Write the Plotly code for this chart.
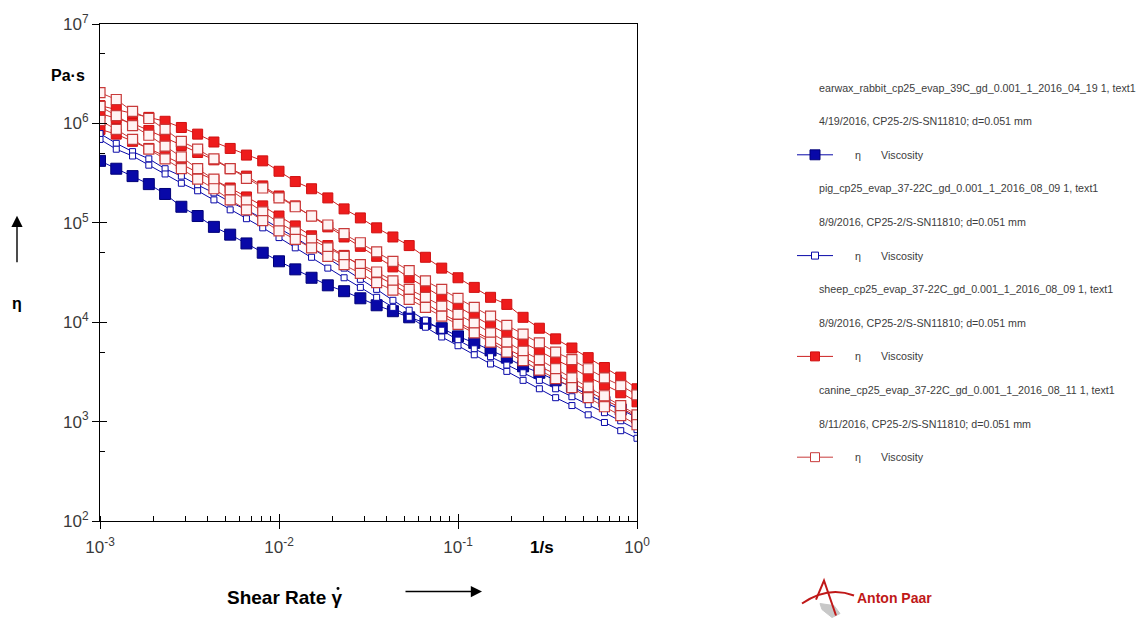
import numpy as np
import plotly.graph_objects as go

# ---------------- data ----------------
shear_rate = np.logspace(-3, 0, 34)  # 1/s, measurement points of the ramp

rabbit = [4.2e5, 3.5e5, 2.95e5, 2.45e5, 1.95e5, 1.45e5, 1.17e5, 9.1e4, 7.6e4, 6.2e4,
          5.0e4, 4.1e4, 3.4e4, 2.8e4, 2.35e4, 2.05e4, 1.74e4, 1.48e4, 1.29e4, 1.12e4,
          9.8e3, 8.7e3, 7.2e3, 6.2e3, 5.2e3, 4.4e3, 3.6e3, 3.1e3, 2.6e3, 2.25e3,
          1.86e3, 1.58e3, 1.32e3, 1.1e3]

pig_runs = [
    [7.9e5, 6.3e5, 5.2e5, 4.4e5, 3.5e5, 2.95e5, 2.4e5, 2.0e5, 1.62e5, 1.35e5,
     1.1e5, 8.9e4, 7.1e4, 5.6e4, 4.4e4, 3.5e4, 2.7e4, 2.14e4, 1.66e4, 1.32e4,
     1.05e4, 8.3e3, 6.6e3, 5.4e3, 4.5e3, 3.7e3, 3.1e3, 2.6e3, 2.14e3, 1.78e3,
     1.48e3, 1.23e3, 1.02e3, 8.3e2],
    [6.9e5, 5.5e5, 4.7e5, 3.8e5, 3.1e5, 2.5e5, 2.1e5, 1.7e5, 1.35e5, 1.1e5,
     8.9e4, 7.1e4, 5.6e4, 4.5e4, 3.5e4, 2.8e4, 2.24e4, 1.78e4, 1.41e4, 1.12e4,
     8.9e3, 7.1e3, 5.8e3, 4.7e3, 3.8e3, 3.2e3, 2.6e3, 2.14e3, 1.74e3, 1.45e3,
     1.17e3, 9.8e2, 8.1e2, 6.8e2],
]

sheep_runs = [
    [1.51e6, 1.38e6, 1.26e6, 1.15e6, 1.05e6, 9.1e5, 7.8e5, 6.5e5, 5.6e5, 4.8e5,
     4.2e5, 3.3e5, 2.6e5, 2.2e5, 1.78e5, 1.38e5, 1.12e5, 8.9e4, 7.2e4, 5.9e4,
     4.5e4, 3.5e4, 2.8e4, 2.24e4, 1.78e4, 1.51e4, 1.12e4, 8.7e3, 6.8e3, 5.5e3,
     4.4e3, 3.5e3, 2.8e3, 2.14e3],
    [1.26e6, 1.12e6, 1.0e6, 8.5e5, 7.2e5, 6.0e5, 5.1e5, 4.3e5, 3.5e5, 2.95e5,
     2.35e5, 1.86e5, 1.48e5, 1.17e5, 9.1e4, 7.2e4, 5.8e4, 4.6e4, 3.6e4, 2.8e4,
     2.24e4, 1.78e4, 1.41e4, 1.15e4, 9.3e3, 7.6e3, 6.3e3, 5.1e3, 4.2e3, 3.5e3,
     2.8e3, 2.35e3, 1.95e3, 1.58e3],
    [8.7e5, 7.8e5, 6.6e5, 5.6e5, 4.7e5, 3.9e5, 3.2e5, 2.7e5, 2.24e5, 1.82e5,
     1.48e5, 1.17e5, 9.3e4, 7.4e4, 5.9e4, 4.7e4, 3.7e4, 2.95e4, 2.4e4, 1.9e4,
     1.55e4, 1.23e4, 1.0e4, 8.1e3, 6.6e3, 5.4e3, 4.5e3, 3.6e3, 3.0e3, 2.45e3,
     2.04e3, 1.66e3, 1.38e3, 1.12e3],
]

canine_runs = [
    [2.04e6, 1.74e6, 1.32e6, 1.12e6, 8.7e5, 6.6e5, 5.5e5, 4.4e5, 3.5e5, 2.8e5,
     2.24e5, 1.78e5, 1.45e5, 1.17e5, 9.5e4, 7.8e4, 6.3e4, 5.1e4, 4.1e4, 3.3e4,
     2.6e4, 2.14e4, 1.74e4, 1.41e4, 1.15e4, 9.3e3, 7.6e3, 6.2e3, 5.0e3, 4.2e3,
     3.4e3, 2.75e3, 2.3e3, 1.86e3],
    [1.48e6, 1.2e6, 9.5e5, 7.6e5, 5.9e5, 4.6e5, 3.5e5, 2.75e5, 2.14e5, 1.66e5,
     1.29e5, 1.0e5, 8.1e4, 6.8e4, 5.6e4, 4.6e4, 3.8e4, 3.2e4, 2.6e4, 2.14e4,
     1.78e4, 1.45e4, 1.2e4, 9.8e3, 7.8e3, 6.3e3, 5.1e3, 4.2e3, 3.4e3, 2.75e3,
     2.24e3, 1.82e3, 1.45e3, 1.17e3],
    [1.07e6, 8.7e5, 6.9e5, 5.5e5, 4.4e5, 3.5e5, 2.75e5, 2.2e5, 1.7e5, 1.35e5,
     1.05e5, 8.3e4, 6.8e4, 5.6e4, 4.6e4, 3.8e4, 3.1e4, 2.5e4, 2.1e4, 1.7e4,
     1.41e4, 1.15e4, 9.5e3, 7.8e3, 6.3e3, 5.0e3, 4.1e3, 3.3e3, 2.7e3, 2.2e3,
     1.74e3, 1.41e3, 1.15e3, 9.3e2],
]

legend_titles = [
    "earwax_rabbit_cp25_evap_39C_gd_0.001_1_2016_04_19 1, text1",
    "pig_cp25_evap_37-22C_gd_0.001_1_2016_08_09 1, text1",
    "sheep_cp25_evap_37-22C_gd_0.001_1_2016_08_09 1, text1",
    "canine_cp25_evap_37-22C_gd_0.001_1_2016_08_11 1, text1",
]
legend_dates = [
    "4/19/2016, CP25-2/S-SN11810; d=0.051 mm",
    "8/9/2016, CP25-2/S-SN11810; d=0.051 mm",
    "8/9/2016, CP25-2/S-SN11810; d=0.051 mm",
    "8/11/2016, CP25-2/S-SN11810; d=0.051 mm",
]

x_ticks = [1e-3, 1e-2, 1e-1, 1e0]
x_ticktext = ["10<sup>-3</sup>", "10<sup>-2</sup>", "10<sup>-1</sup>", "10<sup>0</sup>"]
y_ticks = [1e2, 1e3, 1e4, 1e5, 1e6, 1e7]
y_ticktext = ["10<sup>2</sup>", "10<sup>3</sup>", "10<sup>4</sup>", "10<sup>5</sup>",
              "10<sup>6</sup>", "10<sup>7</sup>"]

# ---------------- styles ----------------
BLUE = "#0808a8"
RED = "#ee1c1c"
RED_EDGE = "#c83a3a"
FONT = "Liberation Sans, Arial, sans-serif"

W, H = 1142, 620
L, R, T, B = 100, 637, 21, 521


def px(x):
    return (x - L) / (R - L)


def py(y):
    return (B - y) / (B - T)


fig = go.Figure()

styles = {
    "rabbit": dict(mode="lines+markers", line=dict(color=BLUE, width=1),
                   marker=dict(symbol="square", size=11, color=BLUE,
                               line=dict(color="#000078", width=1))),
    "pig": dict(mode="lines+markers", line=dict(color=BLUE, width=1),
                marker=dict(symbol="square", size=6, color="white",
                            line=dict(color=BLUE, width=1))),
    "sheep": dict(mode="lines+markers", line=dict(color="#cc2020", width=1),
                  marker=dict(symbol="square", size=10, color=RED,
                              line=dict(color="#d01010", width=1))),
    "canine": dict(mode="lines+markers", line=dict(color=RED_EDGE, width=1),
                   marker=dict(symbol="square", size=10, color="#fff4f4",
                               line=dict(color=RED_EDGE, width=1.2))),
}

fig.add_trace(go.Scatter(x=shear_rate, y=rabbit, name="rabbit", showlegend=False,
                         **styles["rabbit"]))
for run in sheep_runs:
    fig.add_trace(go.Scatter(x=shear_rate, y=run, name="sheep", showlegend=False,
                             **styles["sheep"]))
for run in pig_runs:
    fig.add_trace(go.Scatter(x=shear_rate, y=run, name="pig", showlegend=False,
                             **styles["pig"]))
for run in canine_runs:
    fig.add_trace(go.Scatter(x=shear_rate, y=run, name="canine", showlegend=False,
                             **styles["canine"]))

# empty overlay trace so the inside-tick overlay axes are drawn
fig.add_trace(go.Scatter(x=[], y=[], xaxis="x2", yaxis="y2", showlegend=False,
                         hoverinfo="skip"))

tickfont = dict(family=FONT, size=17, color="#3a3a3a")

fig.update_layout(
    width=W, height=H,
    margin=dict(l=L, r=W - R, t=T, b=H - B, pad=0),
    paper_bgcolor="white", plot_bgcolor="white",
    showlegend=False,
    xaxis=dict(type="log", range=[-3, 0], showgrid=False, zeroline=False,
               showline=True, linecolor="black", linewidth=1, mirror=True,
               ticks="outside", ticklen=7, tickcolor="black", tickwidth=1,
               tickmode="array", tickvals=x_ticks, ticktext=x_ticktext,
               tickfont=tickfont, ticklabelstandoff=4,
               minor=dict(ticks="inside", ticklen=5, tickcolor="black",
                          dtick="D1", showgrid=False)),
    yaxis=dict(type="log", range=[2, 7], showgrid=False, zeroline=False,
               showline=True, linecolor="black", linewidth=1, mirror=True,
               ticks="outside", ticklen=7, tickcolor="black", tickwidth=1,
               tickmode="array", tickvals=y_ticks, ticktext=y_ticktext,
               tickfont=tickfont,
               minor=dict(ticks="inside", ticklen=5, tickcolor="black",
                          tickvals=[5e2, 5e3, 5e4, 5e5, 5e6], showgrid=False)),
    xaxis2=dict(type="log", range=[-3, 0], overlaying="x", anchor="y2",
                showgrid=False, zeroline=False, showline=False,
                ticks="inside", ticklen=7, tickcolor="black",
                tickmode="array", tickvals=x_ticks, showticklabels=False),
    yaxis2=dict(type="log", range=[2, 7], overlaying="y", anchor="x2",
                showgrid=False, zeroline=False, showline=False,
                ticks="inside", ticklen=7, tickcolor="black",
                tickmode="array", tickvals=y_ticks, showticklabels=False),
)

ann = []
shapes = []

# axis titles
ann.append(dict(x=px(87), y=py(73), xref="paper", yref="paper", text="<b>Pa·s</b>",
                showarrow=False, xanchor="right", yanchor="middle",
                font=dict(family=FONT, size=16, color="black")))
ann.append(dict(x=px(17), y=py(302), xref="paper", yref="paper", text="<b>η</b>",
                showarrow=False, xanchor="center", yanchor="middle",
                font=dict(family=FONT, size=16, color="black")))
ann.append(dict(x=px(17), y=py(214), xref="paper", yref="paper", text="",
                showarrow=True, ax=0, ay=48, arrowhead=2, arrowsize=1.6,
                arrowwidth=1.4, arrowcolor="black", standoff=0))
ann.append(dict(x=px(542), y=py(548), xref="paper", yref="paper", text="<b>1/s</b>",
                showarrow=False, xanchor="center", yanchor="middle",
                font=dict(family=FONT, size=17, color="black")))
ann.append(dict(x=px(345), y=py(598), xref="paper", yref="paper",
                text="<b>Shear Rate γ</b>",
                showarrow=False, xanchor="right", yanchor="middle",
                font=dict(family=FONT, size=19, color="black")))
# dot over gamma (time derivative)
shapes.append(dict(type="circle", xref="paper", yref="paper",
                   x0=px(336.5), x1=px(339.5), y0=py(590.5), y1=py(587.5),
                   fillcolor="black", line=dict(color="black", width=0)))
ann.append(dict(x=px(482), y=py(592), xref="paper", yref="paper", text="",
                showarrow=True, ax=-78, ay=0, arrowhead=2, arrowsize=1.6,
                arrowwidth=1.4, arrowcolor="black", standoff=0))

# legend block
row0, step = 85, 33.8
legend_syms = [
    dict(fill=BLUE, edge="#000078", size=10, line=BLUE),
    dict(fill="white", edge=BLUE, size=7, line=BLUE),
    dict(fill=RED, edge="#d01010", size=9, line="#cc2020"),
    dict(fill="white", edge=RED_EDGE, size=9, line=RED_EDGE),
]
lfont = dict(family=FONT, size=10.7, color="#3c3c3c")
for g in range(4):
    y1 = row0 + step * (3 * g)
    y2 = row0 + step * (3 * g + 1)
    y3 = row0 + step * (3 * g + 2)
    ann.append(dict(x=px(817), y=py(y1), xref="paper", yref="paper",
                    text=legend_titles[g], showarrow=False, xanchor="left",
                    yanchor="middle", font=lfont))
    ann.append(dict(x=px(817), y=py(y2), xref="paper", yref="paper",
                    text=legend_dates[g], showarrow=False, xanchor="left",
                    yanchor="middle", font=lfont))
    ann.append(dict(x=px(853), y=py(y3), xref="paper", yref="paper",
                    text="η", showarrow=False, xanchor="left",
                    yanchor="middle", font=lfont))
    ann.append(dict(x=px(879), y=py(y3), xref="paper", yref="paper",
                    text="Viscosity", showarrow=False, xanchor="left",
                    yanchor="middle", font=lfont))
    s = legend_syms[g]
    shapes.append(dict(type="line", xref="paper", yref="paper",
                       x0=px(797), x1=px(833), y0=py(y3), y1=py(y3),
                       line=dict(color=s["line"], width=1)))
    h = s["size"] / 2
    shapes.append(dict(type="rect", xref="paper", yref="paper",
                       x0=px(815 - h), x1=px(815 + h), y0=py(y3 + h), y1=py(y3 - h),
                       fillcolor=s["fill"], line=dict(color=s["edge"], width=1)))

# Anton Paar logo
logo = dict(xref="paper", yref="paper", xsizemode="pixel", ysizemode="pixel",
            xanchor=px(824), yanchor=py(598))
shapes.append(dict(type="path", **logo,
                   path="M -4,-6 L 10,-8 L 16,-16 L 8,-20 L -2,-12 Z",
                   fillcolor="#c8c8c8", line=dict(color="#c8c8c8", width=1)))
shapes.append(dict(type="path", **logo,
                   path="M -22,-6 Q 4,12 30,2",
                   line=dict(color="#c01818", width=2)))
shapes.append(dict(type="path", **logo,
                   path="M -8,-2 L 0,17 L 12,-18",
                   line=dict(color="#c01818", width=2)))
ann.append(dict(x=px(855), y=py(598), xref="paper", yref="paper",
                text="<b>Anton Paar</b>", showarrow=False, xanchor="left",
                yanchor="middle",
                font=dict(family=FONT, size=14, color="#c01818")))

fig.update_layout(annotations=ann, shapes=shapes)
fig.write_html("out.html",
               config={"displayModeBar": False},
               post_script="document.body.style.margin='0px';"
                           "document.body.style.padding='0px';")
